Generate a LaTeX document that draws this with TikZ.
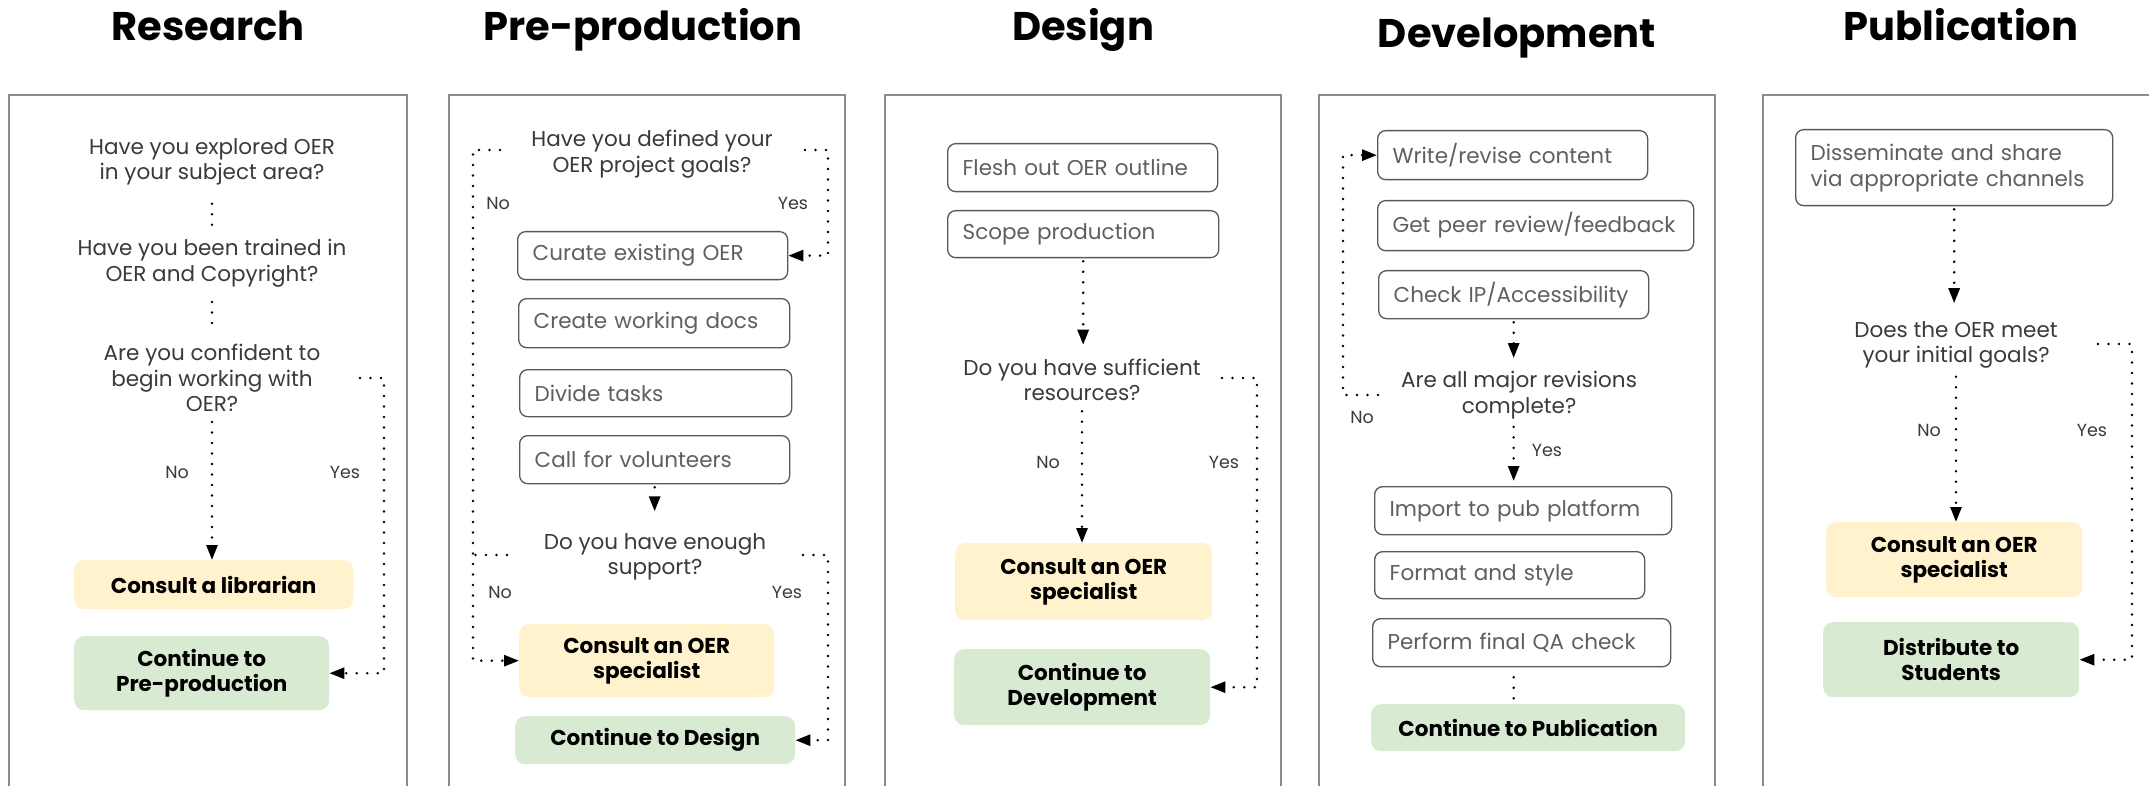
\documentclass[tikz,border=0pt]{standalone}
\usepackage{fontspec}
\setmainfont{Poppins}
\usetikzlibrary{arrows.meta}

\definecolor{yelfill}{HTML}{FFF2CC}
\definecolor{grnfill}{HTML}{D9EAD3}
\definecolor{panelgray}{HTML}{8C8C8C}
\definecolor{boxgray}{HTML}{595959}
\definecolor{qgray}{HTML}{3A3A3A}
\definecolor{tgray}{HTML}{5F5F5F}

\begin{document}
\begin{tikzpicture}[x=1pt,y=-1pt,
  title/.style={anchor=base, font=\bfseries\fontsize{40}{46}\selectfont, text=black},
  panel/.style={draw=panelgray, line width=1.5pt},
  qtext/.style={align=center, font=\fontsize{21.5}{25.5}\selectfont, text=qgray, inner sep=2pt},
  task/.style={draw=boxgray, line width=1.3pt, rounded corners=8pt, anchor=north west,
    inner xsep=15pt, inner ysep=0pt, align=left, font=\fontsize{21.5}{26}\selectfont, text=tgray},
  cbox/.style={rounded corners=10pt, anchor=north west, align=center, inner sep=0pt,
    font=\bfseries\fontsize{21.5}{25}\selectfont, text=black},
  yel/.style={cbox, fill=yelfill},
  grn/.style={cbox, fill=grnfill},
  lbl/.style={font=\fontsize{17.5}{20}\selectfont, text=qgray},
  flow/.style={line width=2.8pt, dash pattern=on 0pt off 10.5pt, line cap=round, black},
  arr/.style={-{Triangle[length=15pt,width=11pt]}}
]
\fill[white] (0,0) rectangle (2149,786);
\useasboundingbox (0,0) rectangle (2149,786);
\clip (0,0) rectangle (2149,786);

% column frames
\draw[panel] (9,95) rectangle (407,820);
\draw[panel] (449,95) rectangle (845,820);
\draw[panel] (885,95) rectangle (1281,820);
\draw[panel] (1319,95) rectangle (1715,820);
\draw[panel] (1763,95) rectangle (2170,820);

% headings
\node[title] (hres) at (208,41) {Research};
\node[title] (hpre) at (643,41) {Pre-production};
\node[title] (hdes) at (1083,41) {Design};
\node[title] (hdev) at (1517,48) {Development};
\node[title] (hpub) at (1961,41) {Publication};

% ---------- Research ----------
\node[qtext] (rq1) at (212,162) {Have you explored OER\\in your subject area?};
\node[qtext] (rq2) at (212,263) {Have you been trained in\\OER and Copyright?};
\node[qtext] (rq3) at (212,378) {Are you confident to\\begin working with\\OER?};
\node[yel, minimum width=279pt, minimum height=49pt] (rlib) at (74,560) {Consult a librarian};
\node[grn, minimum width=255pt, minimum height=74pt] (rcont) at (74,636) {Continue to\\Pre-production};
\node[lbl] (rno) at (177,472) {No};
\node[lbl] (ryes) at (345,472) {Yes};

\draw[flow, shorten <=16pt, shorten >=11pt] (rq1.south) -- (rq2.north);
\draw[flow, shorten <=13pt, shorten >=16pt] (rq2.south) -- (rq3.north);
\draw[flow, arr, shorten <=8pt] (rq3.south) -- (rq3.south |- rlib.north);
\coordinate (ryt) at (360,378);
\draw[flow, arr] (ryt) -- ++(24,0) |- (rcont.east);

% ---------- Pre-production ----------
\node[qtext] (pq1) at (652,154) {Have you defined your\\OER project goals?};
\node[task, text width=240pt, minimum height=48pt] (pcur) at (517,231) {\mbox{Curate existing OER}};
\node[task, text width=241pt, minimum height=49pt] (pcre) at (518,298) {\mbox{Create working docs}};
\node[task, text width=242pt, minimum height=47pt] (pdiv) at (519,369) {\mbox{Divide tasks}};
\node[task, text width=240pt, minimum height=48pt] (pcall) at (519,435) {\mbox{Call for volunteers}};
\node[qtext] (pq2) at (655,557) {Do you have enough\\support?};
\node[yel, minimum width=255pt, minimum height=73pt] (pcons) at (519,624) {Consult an OER\\specialist};
\node[grn, minimum width=280pt, minimum height=48pt] (pdes) at (515,716) {Continue to Design};
\node[lbl] (pno1) at (498,203) {No};
\node[lbl] (pyes1) at (793,203) {Yes};
\node[lbl] (pno2) at (500,592) {No};
\node[lbl] (pyes2) at (787,592) {Yes};

\coordinate (pn1) at (500,150);
\coordinate (pn2) at (507,555);
\coordinate (py1) at (805,150);
\coordinate (py2) at (803,555);
\draw[flow, arr] (pn1) -- (473,150) |- (pcons.west);
\draw[flow] (pn2) -- (473,555);
\draw[flow, arr] (py1) -- (828,150) |- (pcur.east);
\draw[flow, arr] (py2) -- (828,555) |- (pdes.east);
\draw[flow, arr, shorten <=3pt, shorten >=20pt] (pcall.south) -- (pcall.south |- pq2.north);

% ---------- Design ----------
\node[task, text width=240pt, minimum height=48pt] (dfle) at (947,143) {\mbox{Flesh out OER outline}};
\node[task, text width=241pt, minimum height=47pt] (dsco) at (947,210) {\mbox{Scope production}};
\node[qtext] (dq) at (1082,380) {Do you have sufficient\\resources?};
\node[yel, minimum width=257pt, minimum height=77pt] (dcons) at (955,543) {Consult an OER\\specialist};
\node[grn, minimum width=256pt, minimum height=76pt] (ddev) at (954,649) {Continue to\\Development};
\node[lbl] (dno) at (1048,462) {No};
\node[lbl] (dyes) at (1224,462) {Yes};

\draw[flow, arr, shorten <=3pt, shorten >=12pt] (dsco.south) -- (dsco.south |- dq.north);
\draw[flow, arr, shorten <=8pt] (dq.south) -- (dq.south |- dcons.north);
\coordinate (dyt) at (1222,378);
\draw[flow, arr] (dyt) -- ++(35,0) |- (ddev.east);

% ---------- Development ----------
\node[task, text width=240pt, minimum height=49pt] (vwri) at (1377,130) {\mbox{Write/revise content}};
\node[task, text width=286pt, minimum height=50pt] (vpee) at (1377,200) {\mbox{Get peer review/feedback}};
\node[task, text width=240pt, minimum height=48pt] (vchk) at (1378,270) {\mbox{Check IP/Accessibility}};
\node[qtext] (vq) at (1519,395) {Are all major revisions\\complete?};
\node[task, text width=267pt, minimum height=48pt] (vimp) at (1374,486) {\mbox{Import to pub platform}};
\node[task, text width=240pt, minimum height=47pt] (vfmt) at (1374,551) {\mbox{Format and style}};
\node[task, text width=268pt, minimum height=48pt] (vqa) at (1372,618) {\mbox{Perform final QA check}};
\node[grn, minimum width=314pt, minimum height=47pt] (vpub) at (1371,704) {Continue to Publication};
\node[lbl] (vno) at (1362,417) {No};
\node[lbl] (vyes) at (1547,450) {Yes};

\draw[flow, arr, shorten <=3pt, shorten >=11pt] (vchk.south) -- (vchk.south |- vq.north);
\coordinate (vnt) at (1378,395);
\draw[flow, arr] (vnt) -- (1343,395) |- (vwri.west);
\draw[flow, arr, shorten <=6pt, shorten >=5pt] (vchk.south |- vq.south) -- (vchk.south |- vimp.north);
\draw[flow, shorten <=10pt, shorten >=2pt] (vchk.south |- vqa.south) -- (vchk.south |- vpub.north);

% ---------- Publication ----------
\node[task, text width=287pt, minimum height=76pt] (udis) at (1795,129) {Disseminate and share\\via appropriate channels};
\node[qtext] (uq) at (1956,345) {Does the OER meet\\your initial goals?};
\node[yel, minimum width=256pt, minimum height=75pt] (ucons) at (1826,522) {Consult an OER\\specialist};
\node[grn, minimum width=256pt, minimum height=75pt] (udst) at (1823,622) {Distribute to\\Students};
\node[lbl] (uno) at (1929,430) {No};
\node[lbl] (uyes) at (2092,430) {Yes};

\draw[flow, arr, shorten <=3pt, shorten >=16pt] (udis.south) -- (udis.south |- uq.north);
\draw[flow, arr, shorten <=6pt] (uq.south) -- (uq.south |- ucons.north);
\coordinate (uyt) at (2098,344);
\draw[flow, arr] (uyt) -- (2132,344) |- (udst.east);
\end{tikzpicture}
\end{document}
